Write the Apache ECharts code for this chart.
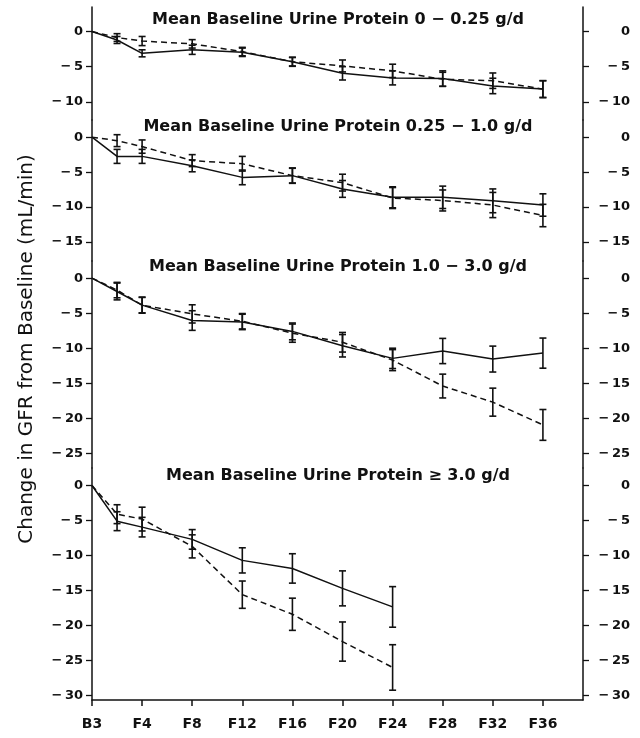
<!DOCTYPE html>
<html>
<head>
<meta charset="utf-8">
<script src="https://cdn.jsdelivr.net/npm/echarts@6/dist/echarts.min.js"></script>
<style>
  html, body { margin: 0; padding: 0; background: #fff; }
  #mainChart { width: 640px; height: 738px; }
</style>
</head>
<body>
<div id="mainChart"></div>
<script>
// visit months (B3 = 0, first follow-up between B3 and F4)
var months = [0, 2, 4, 8, 12, 16, 20, 24, 28, 32, 36];
var xTickValues = [0, 4, 8, 12, 16, 20, 24, 28, 32, 36];
var xTickLabels = ['B3', 'F4', 'F8', 'F12', 'F16', 'F20', 'F24', 'F28', 'F32', 'F36'];

var panelTitles = [
  'Mean Baseline Urine Protein 0 \u2212 0.25 g/d',
  'Mean Baseline Urine Protein 0.25 \u2212 1.0 g/d',
  'Mean Baseline Urine Protein 1.0 \u2212 3.0 g/d',
  'Mean Baseline Urine Protein \u2265 3.0 g/d'
];

var p1Ticks = [0, -5, -10];
var p2Ticks = [0, -5, -10, -15];
var p3Ticks = [0, -5, -10, -15, -20, -25];
var p4Ticks = [0, -5, -10, -15, -20, -25, -30];

// panel 1: 0 - 0.25 g/d
var p1Solid = [0, -1.2, -3.1, -2.6, -2.95, -4.3, -5.95, -6.6, -6.7, -7.75, -8.2];
var p1SolidErr = [0, 0.5, 0.5, 0.65, 0.6, 0.65, 0.95, 1.0, 1.1, 1.1, 1.2];
var p1Dashed = [0, -0.85, -1.35, -1.75, -2.85, -4.3, -4.9, -5.6, -6.8, -7.0, -8.2];
var p1DashedErr = [0, 0.55, 0.65, 0.6, 0.6, 0.6, 0.85, 0.95, 1.0, 1.1, 1.2];

// panel 2: 0.25 - 1.0 g/d
var p2Solid = [0, -2.75, -2.75, -4.1, -5.75, -5.5, -7.4, -8.6, -8.6, -9.1, -9.7];
var p2SolidErr = [0, 1.0, 1.0, 0.85, 1.05, 1.1, 1.2, 1.5, 1.6, 1.7, 1.6];
var p2Dashed = [0, -0.5, -1.35, -3.35, -3.8, -5.5, -6.5, -8.7, -9.05, -9.7, -11.2];
var p2DashedErr = [0, 0.85, 0.95, 0.85, 1.05, 1.05, 1.2, 1.5, 1.5, 1.8, 1.6];

// panel 3: 1.0 - 3.0 g/d
var p3Solid = [0, -1.9, -3.85, -6.05, -6.25, -7.6, -9.65, -11.45, -10.4, -11.55, -10.7];
var p3SolidErr = [0, 1.2, 1.15, 1.4, 1.1, 1.2, 1.6, 1.45, 1.8, 1.85, 2.15];
var p3Dashed = [0, -1.7, -3.85, -5.1, -6.15, -7.85, -9.15, -11.7, -15.4, -17.7, -20.95];
var p3DashedErr = [0, 1.1, 1.1, 1.3, 1.1, 1.3, 1.4, 1.5, 1.7, 2.0, 2.2];

// panel 4: >= 3.0 g/d (only up to F24)
var p4Solid = [0, -5.1, -5.95, -7.7, -10.7, -11.85, -14.7, -17.35];
var p4SolidErr = [0, 1.35, 1.4, 1.4, 1.8, 2.1, 2.5, 2.9];
var p4Dashed = [0, -4.1, -4.8, -8.7, -15.6, -18.4, -22.3, -26];
var p4DashedErr = [0, 1.35, 1.7, 1.65, 1.95, 2.3, 2.8, 3.25];

var FONT = "'DejaVu Sans', sans-serif";
var INK = '#111';

// layout of the four stacked panels
var panels = [
  { top: 7,   height: 113, min: -12.6, max: 3.5,  ticks: p1Ticks, solid: p1Solid, solidErr: p1SolidErr, dashed: p1Dashed, dashedErr: p1DashedErr, titleTop: 12 },
  { top: 120, height: 141, min: -17.7, max: 2.45, ticks: p2Ticks, solid: p2Solid, solidErr: p2SolidErr, dashed: p2Dashed, dashedErr: p2DashedErr, titleTop: 119 },
  { top: 261, height: 207, min: -27.1, max: 2.45, ticks: p3Ticks, solid: p3Solid, solidErr: p3SolidErr, dashed: p3Dashed, dashedErr: p3DashedErr, titleTop: 259 },
  { top: 468, height: 232, min: -30.65, max: 2.5, ticks: p4Ticks, solid: p4Solid, solidErr: p4SolidErr, dashed: p4Dashed, dashedErr: p4DashedErr, titleTop: 468 }
];

function tickText(v) {
  return v === 0 ? '0' : '\u2212\u2009' + Math.abs(v);
}

function renderErr(params, api) {
  var x = api.value(0);
  var top = api.coord([x, api.value(2)]);
  var bot = api.coord([x, api.value(1)]);
  var w = 3.5;
  var st = { stroke: INK, lineWidth: 1.6 };
  return {
    type: 'group',
    children: [
      { type: 'line', shape: { x1: top[0], y1: top[1], x2: bot[0], y2: bot[1] }, style: st },
      { type: 'line', shape: { x1: top[0] - w, y1: top[1], x2: top[0] + w, y2: top[1] }, style: st },
      { type: 'line', shape: { x1: bot[0] - w, y1: bot[1], x2: bot[0] + w, y2: bot[1] }, style: st }
    ]
  };
}

function lineSeries(i, ys, dashed) {
  return {
    type: 'line',
    xAxisIndex: i,
    yAxisIndex: i * 2,
    symbol: 'none',
    silent: true,
    lineStyle: { color: INK, width: 1.5, type: dashed ? [6, 4] : 'solid' },
    data: ys.map(function (y, k) { return [months[k], y]; })
  };
}

function errSeries(i, ys, errs) {
  var data = [];
  ys.forEach(function (y, k) {
    if (errs[k] > 0) data.push([months[k], y - errs[k], y + errs[k]]);
  });
  return {
    type: 'custom',
    coordinateSystem: 'cartesian2d',
    xAxisIndex: i,
    yAxisIndex: i * 2,
    silent: true,
    renderItem: renderErr,
    encode: { x: 0, y: [1, 2] },
    data: data
  };
}

function chartInit() {
  var myChart = echarts.init(document.getElementById('mainChart'), null, { renderer: 'canvas' });

  var grids = [], xAxes = [], yAxes = [], series = [], titles = [];

  panels.forEach(function (p, i) {
    grids.push({ left: 92, right: 57, top: p.top, height: p.height });

    var last = i === panels.length - 1;
    xAxes.push({
      type: 'value',
      gridIndex: i,
      position: 'bottom',
      min: 0,
      max: 39.2,
      show: last,
      axisLine: { onZero: false, lineStyle: { color: INK, width: 1.5 } },
      axisTick: { customValues: xTickValues, length: 6, lineStyle: { color: INK, width: 1.5 } },
      axisLabel: {
        customValues: xTickValues,
        margin: 17,
        color: INK,
        fontFamily: FONT,
        fontWeight: 'bold',
        fontSize: 14,
        formatter: function (v) { return xTickLabels[Math.round(v / 4)]; }
      },
      splitLine: { show: false }
    });

    ['left', 'right'].forEach(function (pos) {
      yAxes.push({
        type: 'value',
        gridIndex: i,
        position: pos,
        min: p.min,
        max: p.max,
        axisLine: { show: true, onZero: false, lineStyle: { color: INK, width: 1.5 } },
        axisTick: { show: true, customValues: p.ticks, length: 6, lineStyle: { color: INK, width: 1.3 } },
        axisLabel: {
          customValues: p.ticks,
          color: INK,
          fontFamily: FONT,
          fontWeight: 'bold',
          fontSize: 13,
          margin: pos === 'left' ? 9 : 47,
          align: 'right',
          formatter: tickText
        },
        splitLine: { show: false }
      });
    });

    titles.push({
      text: panelTitles[i],
      left: 338,
      top: p.titleTop,
      textAlign: 'center',
      padding: 0,
      textStyle: { fontFamily: FONT, fontWeight: 'bold', fontSize: 16, color: INK }
    });

    series.push(lineSeries(i, p.solid, false));
    series.push(lineSeries(i, p.dashed, true));
    series.push(errSeries(i, p.solid, p.solidErr));
    series.push(errSeries(i, p.dashed, p.dashedErr));
  });

  var option = {
    animation: false,
    backgroundColor: '#fff',
    title: titles,
    grid: grids,
    xAxis: xAxes,
    yAxis: yAxes,
    series: series,
    graphic: [{
      type: 'text',
      x: 27,
      y: 349,
      rotation: Math.PI / 2,
      style: {
        text: 'Change in GFR from Baseline (mL/min)',
        fontFamily: FONT,
        fontSize: 20,
        fill: INK,
        align: 'center',
        verticalAlign: 'middle'
      }
    }]
  };
  myChart.setOption(option);
}

chartInit();
</script>
</body>
</html>
